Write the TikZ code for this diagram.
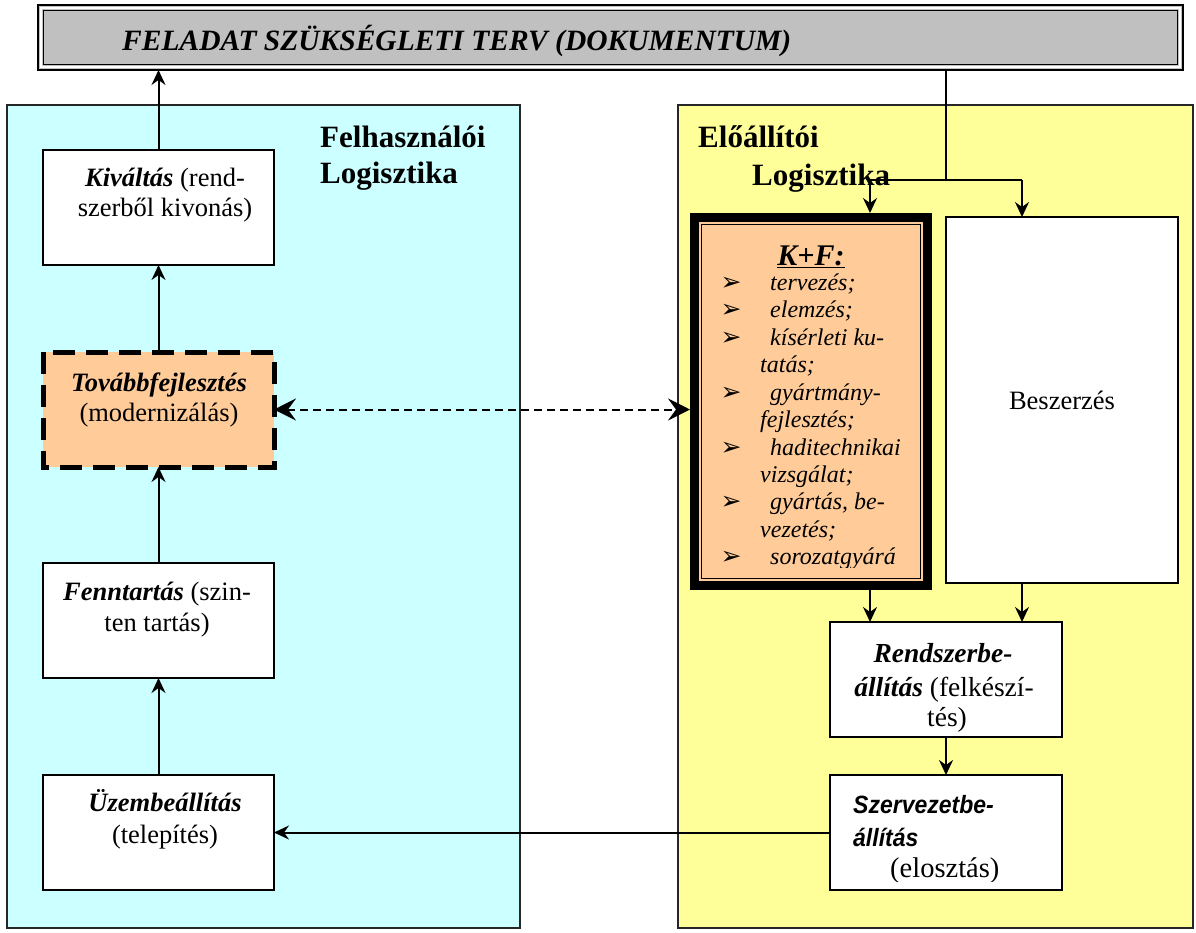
\documentclass[tikz,border=0pt]{standalone}
\usepackage{fontspec}
\setmainfont{Liberation Serif}
\newfontfamily\arialf{Liberation Sans}
\newfontfamily\djv{DejaVu Sans}
\usetikzlibrary{arrows.meta}
\definecolor{cyanbg}{HTML}{CCFFFF}
\definecolor{yelbg}{HTML}{FFFF99}
\definecolor{orbg}{HTML}{FFCC99}
\definecolor{graybg}{HTML}{C0C0C0}
\newcommand{\fsz}[2]{\fontsize{#1}{#2}\selectfont}
\begin{document}
\begin{tikzpicture}[x=1pt,y=-1pt,
  panel/.style={draw=black!85, line width=1.5pt, anchor=north west, inner sep=0pt, outer sep=0pt},
  wbox/.style={draw, line width=1.5pt, fill=white, minimum width=231pt, minimum height=115pt, anchor=north west, inner sep=0pt, outer sep=0pt},
  btxt/.style={anchor=base, inner sep=0pt, font=\fsz{26.5}{31}},
  ltxt/.style={anchor=base west, inner sep=0pt, font=\fsz{26.5}{31}},
  ttl/.style={anchor=base west, inner sep=0pt, font=\fsz{31}{36}\bfseries},
  kftxt/.style={anchor=base west, inner sep=0pt, font=\fsz{24}{27}\itshape},
  bul/.style={anchor=base, inner sep=0pt, font=\djv\fsz{25}{27}},
  arr/.style={line width=2pt, -{Stealth[length=15pt,width=14pt,inset=5pt]}},
  darr/.style={line width=2pt, dash pattern=on 8pt off 5pt,
     {Stealth[length=22pt,width=22pt,inset=8pt]}-{Stealth[length=22pt,width=22pt,inset=8pt]}},
  ln/.style={line width=2pt},
]
\useasboundingbox (0,0) rectangle (1196,932);

% panels
\node[panel, fill=cyanbg, minimum width=513pt, minimum height=823pt] (left) at (7,105) {};
\node[panel, fill=yelbg, minimum width=515pt, minimum height=823pt] (right) at (678,105) {};

% document box
\node[draw, line width=2pt, fill=graybg, minimum width=1145pt, minimum height=65pt, anchor=north west, inner sep=0pt, outer sep=0pt] (doc) at (38,5) {};
\draw[white, line width=1.2pt] ([shift={(3,3)}]doc.north west) rectangle ([shift={(-3,-3)}]doc.south east);
\draw[line width=1.4pt] ([shift={(5.5,5.5)}]doc.north west) rectangle ([shift={(-5.5,-5.5)}]doc.south east);
\node[anchor=base west, inner sep=0pt, font=\fsz{29.5}{31}\bfseries\itshape] (doctxt) at (122,50) {FELADAT SZÜKSÉGLETI TERV (DOKUMENTUM)};

% titles
\node[ttl] (lt1) at (320,147) {Felhasználói};
\node[ttl] (lt2) at (320,183) {Logisztika};
\node[ttl] (rt1) at (698,147) {Előállítói};
\node[ttl] (rt2) at (752,185) {Logisztika};

% left boxes
\node[wbox] (kiv) at (43,150) {};
\node[btxt] (kiv1) at (165,186) {\textbf{\textit{Kiváltás}} (rend-};
\node[btxt] (kiv2) at (165,216) {szerből kivonás)};

\node[wbox, fill=orbg, draw=none] (tov) at (43,352) {};
\draw[line width=5pt, dash pattern=on 22pt off 11pt] (tov.north west) rectangle (tov.south east);
\node[btxt] (tov1) at (159,391) {\textbf{\textit{Továbbfejlesztés}}};
\node[btxt] (tov2) at (159,421) {(modernizálás)};

\node[wbox] (fenn) at (43,563) {};
\node[btxt] (fenn1) at (157,600) {\textbf{\textit{Fenntartás}} (szin-};
\node[btxt] (fenn2) at (157,631) {ten tartás)};

\node[wbox] (uzem) at (43,775) {};
\node[btxt] (uzem1) at (165,811) {\textbf{\textit{Üzembeállítás}}};
\node[btxt] (uzem2) at (165,843) {(telepítés)};

% K+F box
\node[fill=orbg, minimum width=242pt, minimum height=377pt, anchor=north west, inner sep=0pt, outer sep=0pt] (kf) at (690,213) {};
\draw[line width=9pt] ([shift={(4.5,4.5)}]kf.north west) rectangle ([shift={(-4.5,-4.5)}]kf.south east);
\draw[line width=1.3pt] ([shift={(11.5,11.5)}]kf.north west) rectangle ([shift={(-11.5,-11.5)}]kf.south east);
\node[anchor=base, inner sep=0pt, font=\fsz{30}{32}\bfseries\itshape] (kfh) at (811,265) {\underline{K+F:}};
\foreach \n/\yy/\t in {a/290/tervezés;, b/317/elemzés;, c/345/kísérleti ku-, d/400/gyártmány-, e/455/haditechnikai, f/509/{gyártás, be-}}{
  \node[bul] (kb\n) at (731,\yy) {➢};
  \node[kftxt] (kt\n) at (770,\yy) {\t};
}
\foreach \n/\yy/\t in {a/372/tatás;, b/427/fejlesztés;, c/482/vizsgálat;, d/537/vezetés;}{
  \node[kftxt] (kc\n) at (760,\yy) {\t};
}
\begin{scope}
  \clip (700,540) rectangle (925,567);
  \node[bul] (kbg) at (731,564) {➢};
  \node[kftxt] (ktg) at (770,564) {sorozatgyárá};
\end{scope}

% Beszerzes
\node[draw, line width=1.5pt, fill=white, minimum width=232pt, minimum height=366pt, anchor=north west, inner sep=0pt, outer sep=0pt] (besz) at (946,217) {};
\node[inner sep=0pt, font=\fsz{26.5}{31}] (besztxt) at (besz.center) {Beszerzés};

% Rendszerbe
\node[wbox, minimum width=232pt] (rend) at (830,622) {};
\node[btxt, font=\fsz{27.5}{32}] (rend1) at (943,662) {\textbf{\textit{Rendszerbe-}}};
\node[btxt, font=\fsz{27.5}{32}] (rend2) at (944,696) {\textbf{\textit{állítás}} (felkészí-};
\node[btxt, font=\fsz{27.5}{32}] (rend3) at (947,726) {tés)};

% Szervezetbe
\node[wbox, minimum width=232pt] (szerv) at (830,775) {};
\node[ltxt, font=\arialf\bfseries\itshape\fsz{25}{30}] (sz1) at (853,813) {\scalebox{0.92}[1]{Szervezetbe-}};
\node[ltxt, font=\arialf\bfseries\itshape\fsz{25}{30}] (sz2) at (853,846) {\scalebox{0.92}[1]{állítás}};
\begin{scope}
  \clip (840,850) rectangle (1050,881);
  \node[ltxt, font=\fsz{28.5}{31}] (sz3) at (890,877) {(elosztás)};
\end{scope}

% connectors
\coordinate (split) at (946,180);
\coordinate (jl) at (870,180);
\coordinate (jr) at (1022,180);
\draw[ln] (doc.south -| split) -- (split);
\draw[ln] (jl) -- (jr);
\draw[arr] (jl) -- (jl |- kf.north);
\draw[arr] (jr) -- (jr |- besz.north);
\draw[arr] (kf.south -| jl) -- (jl |- rend.north);
\draw[arr] (besz.south -| jr) -- (jr |- rend.north);
\draw[arr] (rend.south) -- (szerv.north);
\draw[arr] (szerv.west |- uzem.east) -- (uzem.east);
\draw[arr] (uzem.north) -- (fenn.south);
\draw[arr] (fenn.north) -- (tov.south);
\draw[arr] (tov.north) -- (kiv.south);
\draw[arr] (kiv.north) -- (kiv.north |- doc.south);
\draw[darr] (tov.east) -- (kf.west |- tov.east);
\end{tikzpicture}
\end{document}
